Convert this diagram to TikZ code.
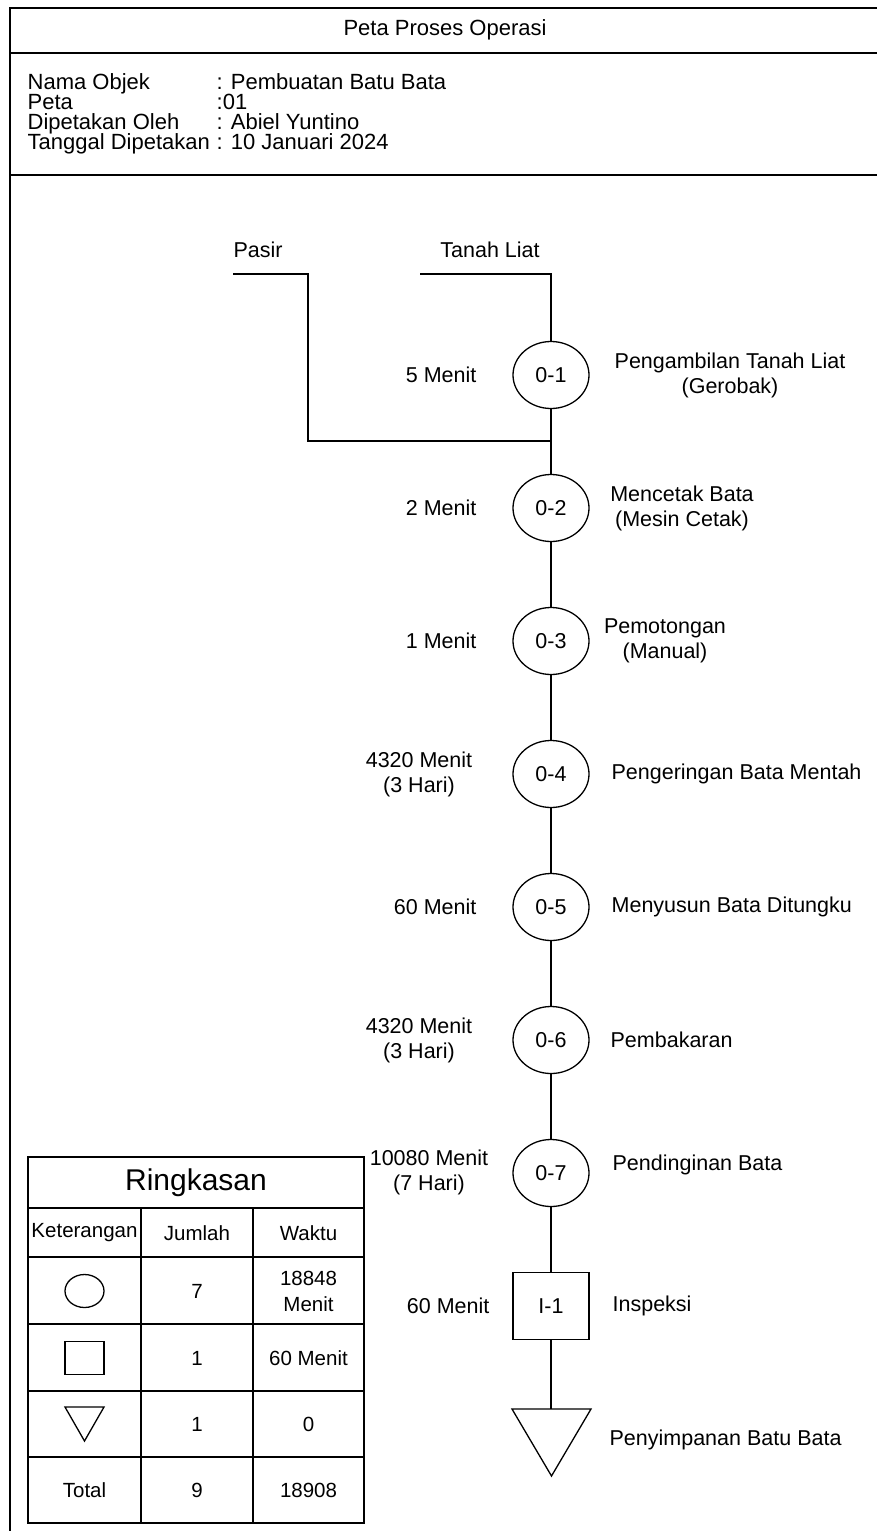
\documentclass[tikz,border=0pt]{standalone}
\usepackage{fontspec}
\setmainfont{Liberation Sans}
\usetikzlibrary{shapes.geometric}
\newcommand\lblf{\fontsize{21.5}{25}\selectfont}
\newcommand\inff{\fontsize{22}{25}\selectfont}
\newcommand\tblf{\fontsize{20.5}{26}\selectfont}
\newcommand\ttlf{\fontsize{30}{32}\selectfont}
\begin{document}
\begin{tikzpicture}[x=1pt,y=-1pt,line width=1.3pt,
  op/.style={ellipse,draw,minimum width=76pt,minimum height=67pt,inner sep=0pt,font=\lblf},
  insp/.style={rectangle,draw,minimum width=76pt,minimum height=67pt,inner sep=0pt,font=\lblf},
  lbl/.style={inner sep=0pt,font=\lblf,align=center},
  info/.style={inner sep=0pt,font=\inff,anchor=west,text height=15pt,text depth=4pt},
  tcell/.style={inner sep=0pt,font=\tblf,align=center},
  frame/.style={line width=1.6pt},
  link/.style={line width=1.3pt}]
\useasboundingbox (0,0) rectangle (877,1531);
% frame
\draw[frame] (877,8) -- (10,8) -- (10,1531);
\draw[frame] (10,53) -- (877,53);
\draw[frame] (10,175) -- (877,175);
\node[lbl,font=\inff] (title) at (445,30) {Peta Proses Operasi};
\node[info] (k1) at (27,84) {Nama Objek};
\node[info] (k2) at (27,104) {Peta};
\node[info] (k3) at (27,124) {Dipetakan Oleh};
\node[info] (k4) at (27,144) {Tanggal Dipetakan};
\node[info] (v1) at (216,84) {: Pembuatan Batu Bata};
\node[info] (v2) at (216,104) {:01};
\node[info] (v3) at (216,124) {: Abiel Yuntino};
\node[info] (v4) at (216,144) {: 10 Januari 2024};
% inputs
\node[lbl] (pasir) at (258,250) {Pasir};
\node[lbl] (tanah) at (490,250) {Tanah Liat};
% process chain
\node[op] (o1) at (551,375) {0-1};
\node[op] (o2) at (551,508) {0-2};
\node[op] (o3) at (551,641) {0-3};
\node[op] (o4) at (551,774) {0-4};
\node[op] (o5) at (551,907) {0-5};
\node[op] (o6) at (551,1040) {0-6};
\node[op] (o7) at (551,1173) {0-7};
\node[insp] (i1) at (551,1306) {I-1};
\coordinate (sttop) at (551,1409);
\draw (512,1409) -- (591,1409) -- (551.5,1476) -- cycle;
\coordinate (pA) at (233,274);
\coordinate (pB) at (308,274);
\coordinate (pC) at (308,441);
\coordinate (junc) at (551,441);
\coordinate (tA) at (420,274);
\coordinate (tB) at (551,274);
\draw[link] (pA) -- (pB) -- (pC) -- (junc);
\draw[link] (tA) -- (tB) -- (o1.north);
\draw[link] (o1) -- (o2);
\draw[link] (o2) -- (o3);
\draw[link] (o3) -- (o4);
\draw[link] (o4) -- (o5);
\draw[link] (o5) -- (o6);
\draw[link] (o6) -- (o7);
\draw[link] (o7) -- (i1);
\draw[link] (i1.south) -- (sttop);
% time labels
\node[lbl,anchor=east] (t1) at (477,375) {5 Menit};
\node[lbl,anchor=east] (t2) at (477,508) {2 Menit};
\node[lbl,anchor=east] (t3) at (477,641) {1 Menit};
\node[lbl] (t4) at (419,774) {4320 Menit\\(3 Hari)};
\node[lbl,anchor=east] (t5) at (477,907) {60 Menit};
\node[lbl] (t6) at (419,1040) {4320 Menit\\(3 Hari)};
\node[lbl] (t7) at (429,1172) {10080 Menit\\(7 Hari)};
\node[lbl,anchor=east] (t8) at (490,1306) {60 Menit};
% description labels
\node[lbl] (d1) at (730,375) {Pengambilan Tanah Liat\\(Gerobak)};
\node[lbl] (d2) at (682,508) {Mencetak Bata\\(Mesin Cetak)};
\node[lbl] (d3) at (665,641) {Pemotongan\\(Manual)};
\node[lbl,anchor=west] (d4) at (611,774) {Pengeringan Bata Mentah};
\node[lbl,anchor=west] (d5) at (611,907) {Menyusun Bata Ditungku};
\node[lbl,anchor=west] (d6) at (610,1040) {Pembakaran};
\node[lbl,anchor=west] (d7) at (612,1165) {Pendinginan Bata};
\node[lbl,anchor=west] (d8) at (612,1306) {Inspeksi};
\node[lbl,anchor=west] (d9) at (609,1440) {Penyimpanan Batu Bata};
% summary table
\draw (28,1157) rectangle (364,1523);
\foreach \yy in {1208,1257,1324,1391,1457} \draw (28,\yy) -- (364,\yy);
\draw (141,1208) -- (141,1523);
\draw (253,1208) -- (253,1523);
\node[inner sep=0pt,font=\ttlf] (ring) at (196,1183) {Ringkasan};
\node[tcell] (h1) at (84.5,1233) {Keterangan};
\node[tcell] (h2) at (197,1233) {Jumlah};
\node[tcell] (h3) at (308.5,1233) {Waktu};
\node[ellipse,draw,minimum width=39pt,minimum height=33pt,inner sep=0pt] (sc) at (84.5,1291) {};
\node[tcell] (n1) at (197,1291) {7};
\node[tcell] (w1) at (308.5,1291) {18848\\Menit};
\node[rectangle,draw,minimum width=39pt,minimum height=33pt,inner sep=0pt] (ss) at (84.5,1358) {};
\node[tcell] (n2) at (197,1358) {1};
\node[tcell] (w2) at (308.5,1358) {60 Menit};
\draw (65,1407) -- (104,1407) -- (84.5,1441) -- cycle;
\node[tcell] (n3) at (197,1424) {1};
\node[tcell] (w3) at (308.5,1424) {0};
\node[tcell] (h4) at (84.5,1490) {Total};
\node[tcell] (n4) at (197,1490) {9};
\node[tcell] (w4) at (308.5,1490) {18908};
\end{tikzpicture}
\end{document}
